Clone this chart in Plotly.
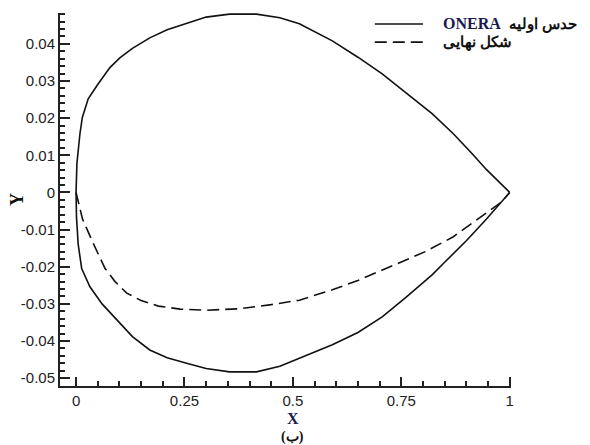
import plotly.graph_objects as go

# ONERA initial guess: upper surface (TE -> LE) and lower surface (LE -> TE)
upper_x = [1.0, 0.946, 0.913, 0.870, 0.821, 0.760, 0.706, 0.650, 0.591, 0.515, 0.470, 0.416, 0.385, 0.354,
           0.300, 0.255, 0.210, 0.170, 0.130, 0.101, 0.078, 0.048, 0.028, 0.0145, 0.009, 0.002, 0.0]
upper_y = [0.0, 0.0062, 0.0105, 0.0158, 0.0212, 0.0268, 0.0319, 0.0364, 0.0408, 0.0454, 0.0470, 0.0480, 0.0481, 0.0480,
           0.0472, 0.0456, 0.0438, 0.0416, 0.0388, 0.0362, 0.0336, 0.0287, 0.0252, 0.0202, 0.0158, 0.0078, 0.0]
lower_x = [0.0, 0.001, 0.005, 0.013, 0.032, 0.060, 0.094, 0.130, 0.170, 0.210, 0.255, 0.300, 0.354, 0.385,
           0.416, 0.470, 0.515, 0.591, 0.650, 0.706, 0.760, 0.821, 0.850, 0.900, 0.946, 1.0]
lower_y = [0.0, -0.0066, -0.0140, -0.0205, -0.0254, -0.0300, -0.0344, -0.0388, -0.0424, -0.0445, -0.0460, -0.0474,
           -0.0483, -0.0484, -0.0483, -0.0468, -0.0446, -0.0410, -0.0377, -0.0335, -0.0283, -0.0222, -0.0188, -0.0130,
           -0.0072, 0.0]

# Final shape: lower surface
final_x = [0.0, 0.015, 0.040, 0.067, 0.090, 0.117, 0.150, 0.190, 0.240, 0.301, 0.377, 0.450, 0.515, 0.591,
           0.650, 0.706, 0.760, 0.804, 0.869, 0.946, 0.981, 1.0]
final_y = [0.0, -0.0072, -0.0138, -0.0205, -0.0240, -0.0271, -0.0291, -0.0306, -0.0314, -0.0317, -0.0313, -0.0302,
           -0.0290, -0.0262, -0.0237, -0.0209, -0.0183, -0.0160, -0.0120, -0.0057, -0.0026, 0.0]

x_tickvals = [0, 0.25, 0.5, 0.75, 1]
x_ticktext = ["0", "0.25", "0.5", "0.75", "1"]
y_tickvals = [-0.05, -0.04, -0.03, -0.02, -0.01, 0, 0.01, 0.02, 0.03, 0.04]
y_ticktext = ["-0.05", "-0.04", "-0.03", "-0.02", "-0.01", "0", "0.01", "0.02", "0.03", "0.04"]

legend_initial = ("<b><span style='font-family:\"Liberation Serif\", serif; font-size:16px; color:#1a1a50'>ONERA</span></b>"
                  "  <b>حدس اولیه</b>")
legend_final = "<b>شکل نهایی</b>"

LINE_COLOR = "#111111"

fig = go.Figure()
fig.add_trace(go.Scatter(
    x=upper_x + lower_x[1:], y=upper_y + lower_y[1:], mode="lines",
    line=dict(color=LINE_COLOR, width=1.6), name="ONERA", showlegend=False))
fig.add_trace(go.Scatter(
    x=final_x, y=final_y, mode="lines",
    line=dict(color=LINE_COLOR, width=1.6, dash="12px,6px"), name="final", showlegend=False))

tickfont = dict(family="Liberation Sans, Arial, sans-serif", size=15, color="#222222")
legfont = dict(family="Liberation Sans, Arial, sans-serif", size=15, color="#111111")

# legend drawn as layout decorations (paper coordinates)
leg_x0, leg_x1, leg_tx = 0.698, 0.805, 0.845
leg_rows = [0.9705, 0.922]

fig.update_layout(
    width=582, height=437,
    margin=dict(l=52, r=79, t=5, b=59),
    paper_bgcolor="white", plot_bgcolor="white",
    showlegend=False,
    xaxis=dict(range=[-0.037, 1.003], showgrid=False, zeroline=False, showline=True, linecolor="#222",
               linewidth=2, ticks="inside", ticklen=9, tickwidth=2, tickcolor="#222", automargin=False,
               tickvals=x_tickvals, ticktext=x_ticktext, tickfont=tickfont,
               minor=dict(dtick=0.05, tick0=0, ticks="inside", ticklen=5, tickwidth=1.5, tickcolor="#222", showgrid=False)),
    yaxis=dict(range=[-0.0521, 0.0483], showgrid=False, zeroline=False, showline=True, linecolor="#222",
               linewidth=2, ticks="inside", ticklen=10, tickwidth=2, tickcolor="#222", automargin=False,
               tickvals=y_tickvals, ticktext=y_ticktext, tickfont=tickfont,
               minor=dict(dtick=0.002, tick0=0, ticks="inside", ticklen=5, tickwidth=1.5, tickcolor="#222", showgrid=False)),
    shapes=[
        dict(type="line", xref="paper", yref="paper", x0=leg_x0, x1=leg_x1, y0=leg_rows[0], y1=leg_rows[0],
             line=dict(color=LINE_COLOR, width=1.6)),
        dict(type="line", xref="paper", yref="paper", x0=leg_x0, x1=leg_x1, y0=leg_rows[1], y1=leg_rows[1],
             line=dict(color=LINE_COLOR, width=1.6, dash="12px,6px")),
    ],
    annotations=[
        dict(text=legend_initial, x=leg_tx, xref="paper", y=leg_rows[0], yref="paper", xanchor="left",
             yanchor="middle", showarrow=False, font=legfont),
        dict(text=legend_final, x=leg_tx, xref="paper", y=leg_rows[1], yref="paper", xanchor="left",
             yanchor="middle", showarrow=False, font=legfont),
        dict(text="<b>X</b>", x=0.5, xref="x", y=-0.088, yref="paper", xanchor="center", yanchor="middle",
             showarrow=False, borderpad=0, font=dict(family="Liberation Serif, serif", size=16, color="#1a1a50")),
        dict(text="<b>(ب)</b>", x=0.5, xref="x", y=-0.136, yref="paper", xanchor="center", yanchor="middle",
             showarrow=False, borderpad=0, font=dict(family="Liberation Serif, serif", size=14, color="#111")),
        dict(text="<b>Y</b>", x=-0.095, xref="paper", y=0.499, yref="paper", xanchor="center", yanchor="middle",
             textangle=-90, showarrow=False, font=dict(family="Liberation Serif, serif", size=18, color="#111")),
    ],
)

fig.write_html("out.html")
